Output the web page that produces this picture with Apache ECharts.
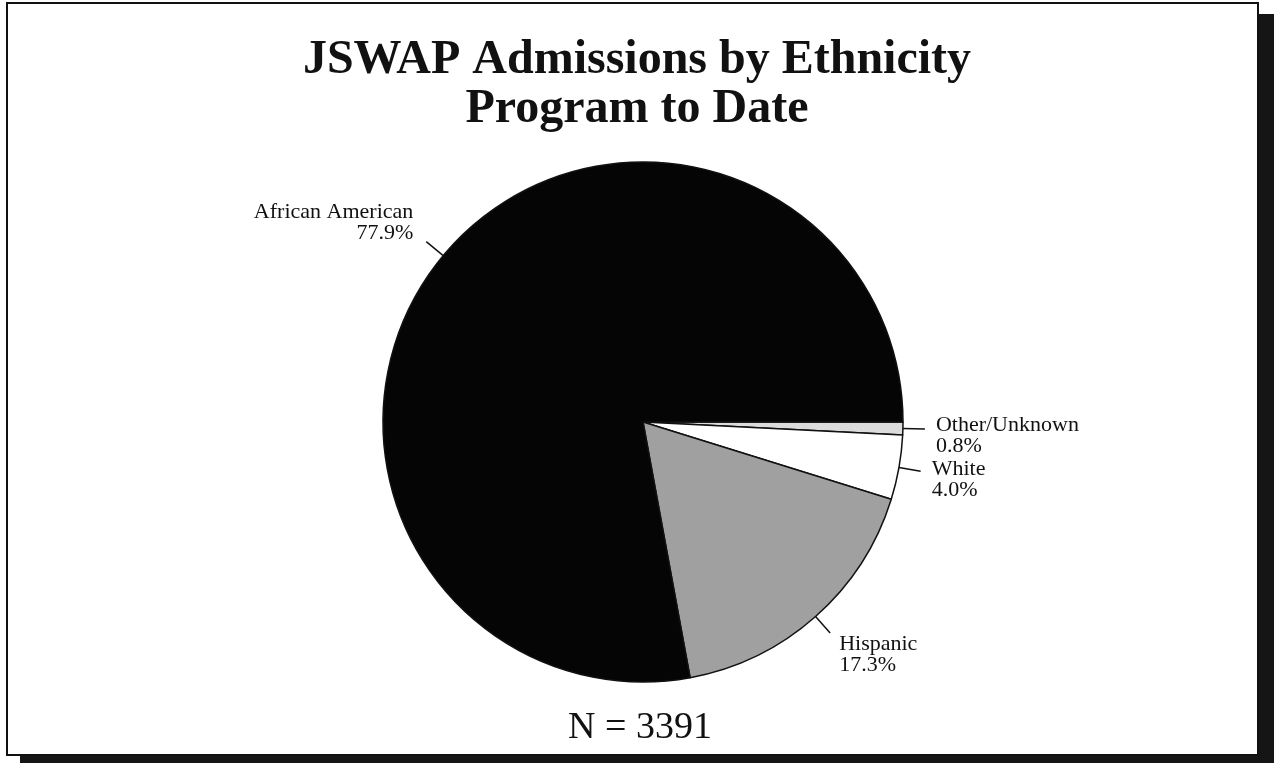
<!DOCTYPE html>
<html>
<head>
<meta charset="utf-8">
<script src="https://cdn.jsdelivr.net/npm/echarts@6/dist/echarts.min.js"></script>
<style>
html,body{margin:0;padding:0;background:#ffffff;}
#chart{width:1286px;height:763px;}
</style>
</head>
<body>
<div id="chart"></div>
<script>
const titleLines = ['JSWAP Admissions by Ethnicity', 'Program to Date'];
const categories = ['Other/Unknown', 'White', 'Hispanic', 'African American'];
const percents = [0.8, 4.0, 17.3, 77.9];
const sliceColors = ['#dcdcdc', '#ffffff', '#a0a0a0', '#050505'];
const totalN = 3391;

const chart = echarts.init(document.getElementById('chart'), null, {renderer: 'canvas'});
const serif = '"Liberation Serif", "Times New Roman", serif';
// label nudges (style only)
const labelNudge = {
  'Other/Unknown': [6, 7],
  'White': [6, 8],
  'Hispanic': [4, 22],
  'African American': [-8, -19]
};

const option = {
  backgroundColor: '#ffffff',
  animation: false,
  title: {
    text: titleLines.join('\n'),
    left: 632,
    textAlign: 'center',
    top: 31,
    textStyle: {fontFamily: serif, fontWeight: 'bold', fontSize: 48, lineHeight: 49, color: '#111'}
  },
  graphic: [
    {type: 'rect', shape: {x: 20, y: 14, width: 1254, height: 760}, style: {fill: '#151515'}, z: -2},
    {type: 'rect', shape: {x: 7, y: 3, width: 1251, height: 752}, style: {fill: '#ffffff', stroke: '#111', lineWidth: 2}, z: -1},
    {type: 'text', x: 640, y: 709, style: {text: 'N = ' + totalN, font: '38px ' + serif, fill: '#111', textAlign: 'center'}}
  ],
  series: [{
    type: 'pie',
    center: [643, 422],
    radius: 260,
    startAngle: 0,
    clockwise: true,
    avoidLabelOverlap: false,
    data: categories.map((c, i) => ({name: c, value: percents[i], itemStyle: {color: sliceColors[i]}})),
    itemStyle: {borderColor: '#111', borderWidth: 1.5},
    label: {
      show: true,
      formatter: p => p.name + '\n' + p.value.toFixed(1) + '%',
      fontFamily: serif,
      fontSize: 22,
      lineHeight: 21,
      color: '#111'
    },
    labelLine: {show: true, length: 22, length2: 0, lineStyle: {color: '#111', width: 1.5}},
    labelLayout: function (params) {
      const n = labelNudge[categories[params.dataIndex]] || [0, 0];
      return {hideOverlap: false, dx: n[0], dy: n[1]};
    },
    emphasis: {disabled: true}
  }]
};
chart.setOption(option);
</script>
</body>
</html>
